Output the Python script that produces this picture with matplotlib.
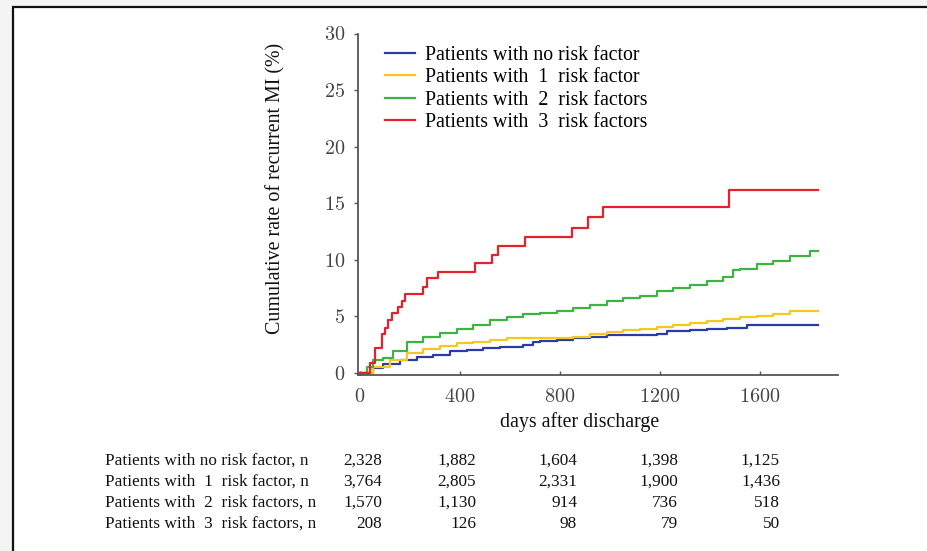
import matplotlib
matplotlib.use("Agg")
import matplotlib.pyplot as plt
from matplotlib.patches import Rectangle

plt.rcParams["axes.formatter.use_mathtext"] = True

# ---------------- data ----------------
labels = ["Patients with no risk factor", "Patients with  1  risk factor",
          "Patients with  2  risk factors", "Patients with  3  risk factors"]

days_none = [0, 52, 92, 160, 228, 292, 360, 428, 492, 560, 652, 692, 720, 788,
             852, 920, 988, 1052, 1120, 1188, 1228, 1320, 1388, 1468, 1548, 1832]
rate_none = [0, 0.45, 0.8, 1.15, 1.4, 1.55, 1.9, 2.0, 2.2, 2.3, 2.45, 2.7, 2.8, 2.9,
             3.05, 3.2, 3.35, 3.3, 3.3, 3.45, 3.7, 3.8, 3.85, 4.0, 4.25, 4.25]

days_one = [0, 52, 120, 188, 252, 320, 388, 452, 520, 588, 652, 720, 788, 852,
            920, 988, 1052, 1120, 1188, 1252, 1320, 1388, 1452, 1520, 1588, 1652, 1720, 1832]
rate_one = [0, 0.5, 1.15, 1.75, 2.1, 2.4, 2.6, 2.75, 2.9, 3.05, 3.1, 3.1, 3.1, 3.2,
            3.4, 3.6, 3.75, 3.9, 4.05, 4.25, 4.4, 4.55, 4.75, 4.9, 5.0, 5.2, 5.45, 5.45]

days_two = [0, 28, 52, 92, 132, 188, 252, 320, 388, 452, 520, 588, 652, 720, 788,
            852, 920, 988, 1052, 1120, 1188, 1252, 1320, 1388, 1452, 1492, 1520,
            1588, 1652, 1720, 1800, 1832]
rate_two = [0, 0.5, 1.15, 1.3, 1.9, 2.7, 3.2, 3.5, 3.9, 4.25, 4.7, 4.9, 5.2, 5.3, 5.5,
            5.75, 6.0, 6.3, 6.6, 6.8, 7.2, 7.5, 7.8, 8.1, 8.5, 9.1, 9.2, 9.6, 9.9,
            10.3, 10.75, 10.75]

days_three = [0, 40, 60, 88, 100, 112, 128, 152, 168, 180, 252, 268, 312, 460,
              528, 552, 660, 848, 912, 972, 1476, 1832]
rate_three = [0, 0.9, 2.2, 3.4, 4.0, 4.7, 5.3, 5.8, 6.3, 7.0, 7.6, 8.4, 8.9, 9.7,
              10.4, 11.2, 12.0, 12.8, 13.8, 14.7, 16.2, 16.2]

colors = ["#2a3aa6", "#f6c81e", "#3db441", "#e5222b"]

x_ticks = [0, 400, 800, 1200, 1600]
y_ticks = [0, 5, 10, 15, 20, 25, 30]

risk_labels = ["Patients with no risk factor, n", "Patients with  1  risk factor, n",
               "Patients with  2  risk factors, n", "Patients with  3  risk factors, n"]
at_risk_none = ["2,328", "1,882", "1,604", "1,398", "1,125"]
at_risk_one = ["3,764", "2,805", "2,331", "1,900", "1,436"]
at_risk_two = ["1,570", "1,130", "914", "736", "518"]
at_risk_three = ["208", "126", "98", "79", "50"]

# ---------------- figure ----------------
W, H = 928, 551
fig = plt.figure(figsize=(W / 100, H / 100), dpi=100)
fig.patch.set_facecolor("#f4f4f4")

frame = Rectangle((13 / W, -0.05), 1.2, 1 - 7 / H + 0.05, transform=fig.transFigure,
                  facecolor="white", edgecolor="#111111", linewidth=1.6, zorder=-10)
fig.patches.append(frame)

ax = fig.add_axes([358 / W, 1 - 375 / H, 480 / W, (375 - 33.5) / H], zorder=2)
ax.set_facecolor("none")

series = [(days_none, rate_none), (days_one, rate_one),
          (days_two, rate_two), (days_three, rate_three)]
for (d, r), c, lab in zip(series, colors, labels):
    ax.step(d, r, where="post", color=c, linewidth=1.6, label=lab)

ax.set_xlim(-8, 1912)
ax.set_ylim(-0.2, 30)
ax.set_xticks(x_ticks)
ax.set_yticks(y_ticks)
for s in ["top", "right"]:
    ax.spines[s].set_visible(False)
for s in ["left", "bottom"]:
    ax.spines[s].set_color("#555555")
    ax.spines[s].set_linewidth(1.3)
ax.tick_params(axis="y", direction="out", length=3, width=1, color="#555555",
               pad=6, labelsize=14.5, labelcolor="#444444")
ax.tick_params(axis="x", direction="in", length=3, width=1, color="#555555",
               pad=9, labelsize=14.5, labelcolor="#444444")
for t in ax.get_xticklabels() + ax.get_yticklabels():
    t.set_fontfamily("cmr10")

serif = "Liberation Serif"
fig.text(276 / W, 1 - 188 / H, "Cumulative rate of recurrent MI (%)", rotation=90,
         ha="center", va="center", fontsize=14.4, family=serif, color="#111111")
fig.text(580 / W, 1 - 422 / H, "days after discharge", ha="center", va="center",
         fontsize=14.3, family=serif, color="#111111")

leg = ax.legend(loc="upper left", bbox_to_anchor=(385 / W, 1 - 45.5 / H),
                bbox_transform=fig.transFigure, frameon=False, borderpad=0,
                borderaxespad=0, handlelength=1.5, handletextpad=0.5,
                labelspacing=0.18, prop={"family": serif, "size": 14.3})

# number at risk table
row_y = [461, 482, 503, 524]
col_x = [382, 476, 577, 678, 780]
rows = [at_risk_none, at_risk_one, at_risk_two, at_risk_three]
for lab, vals, y in zip(risk_labels, rows, row_y):
    fig.text(105 / W, 1 - y / H, lab, ha="left", va="center", fontsize=12.4,
             family=serif, color="#111111")
    for v, x in zip(vals, col_x):
        fig.text(x / W, 1 - y / H, v, ha="right", va="center", fontsize=12.4,
                 family=serif, color="#111111")

fig.savefig("out.png", dpi=100, facecolor=fig.get_facecolor())
